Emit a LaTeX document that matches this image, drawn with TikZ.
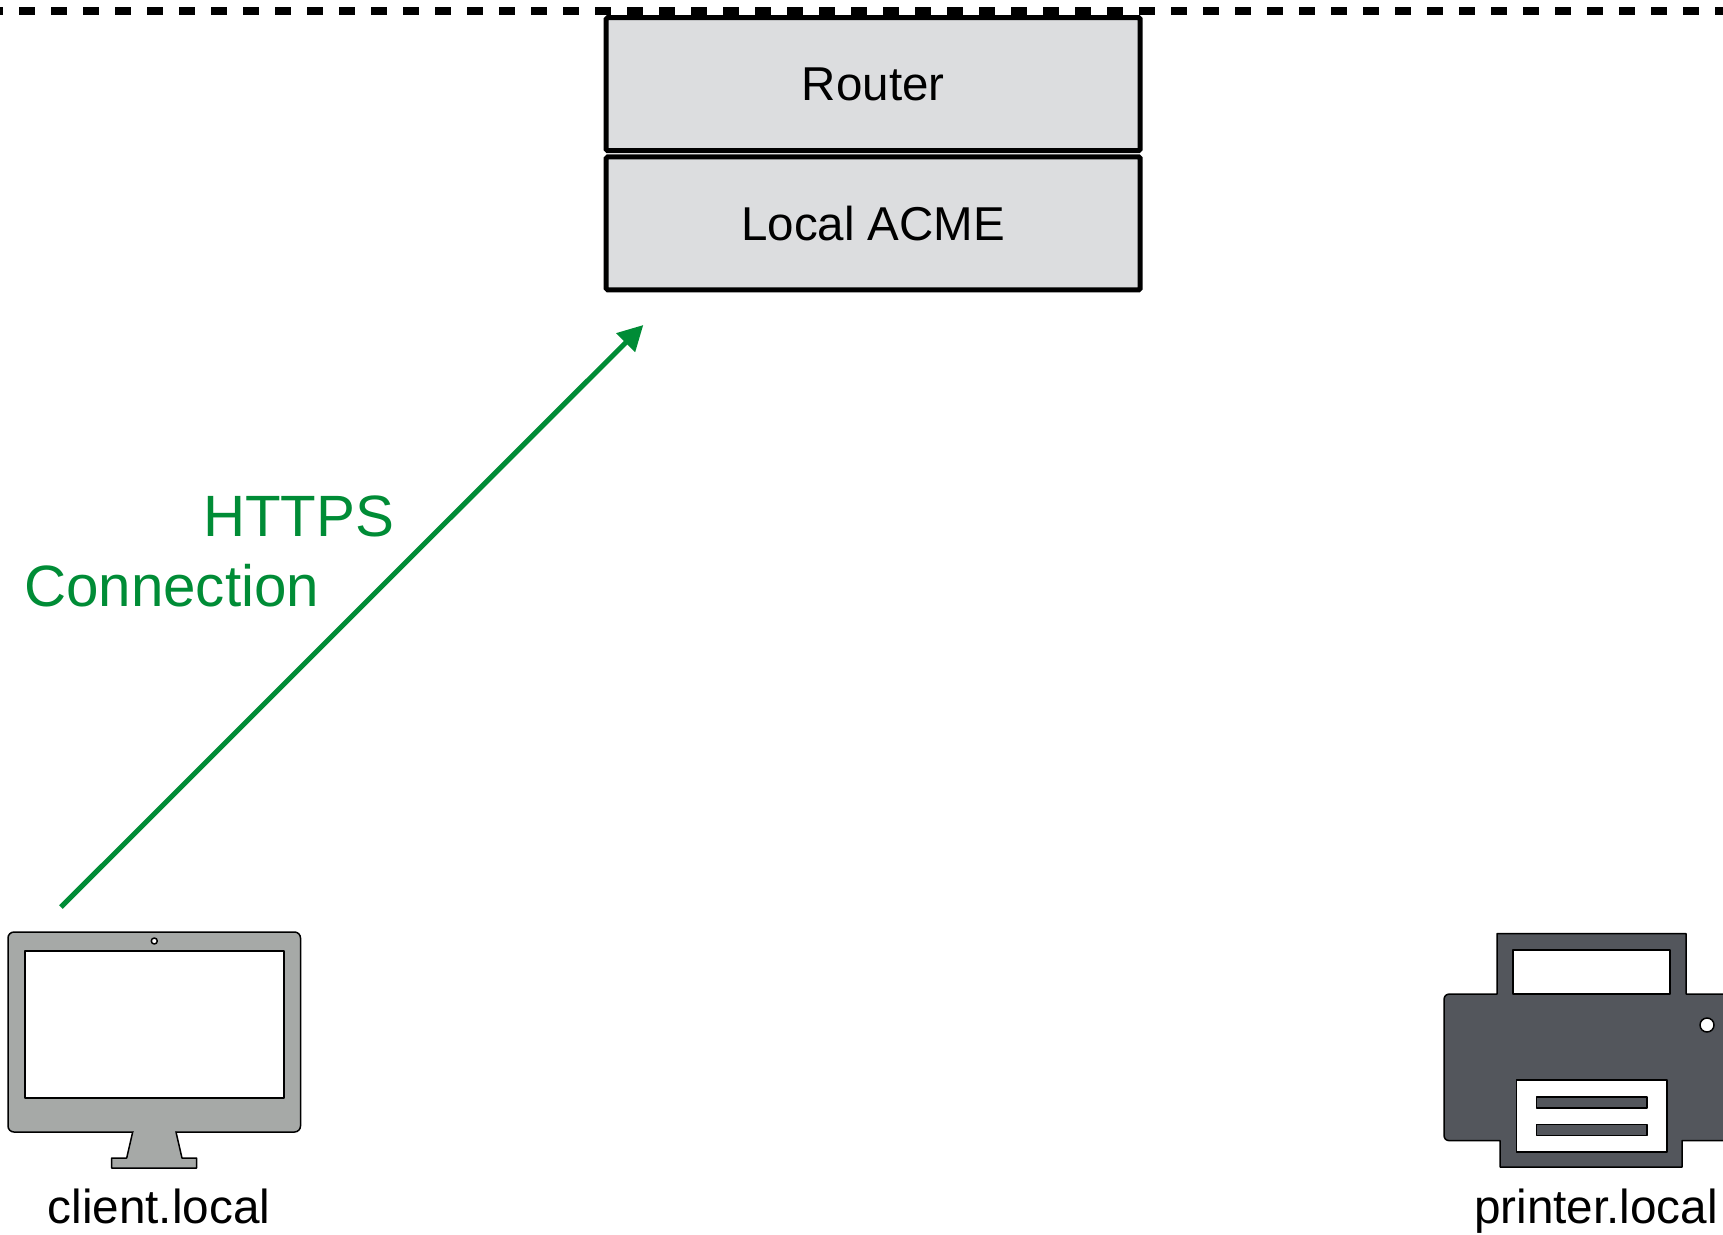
\documentclass[tikz,border=0pt]{standalone}
\usepackage{fontspec}
\setmainfont{Liberation Sans}
\usetikzlibrary{arrows.meta}
\definecolor{boxgrey}{HTML}{DCDDDF}
\definecolor{linkgreen}{HTML}{008C36}
\definecolor{monitorgrey}{HTML}{A6A9A7}
\definecolor{printergrey}{HTML}{53565C}
\tikzset{
  stackbox/.style={draw=black,fill=boxgrey,line width=5pt,rounded corners=1.5pt,minimum width=534pt,minimum height=133pt,inner sep=0pt,outer sep=0pt,font=\fontsize{47.5}{47.5}\selectfont},
  devicelabel/.style={anchor=base,inner sep=0pt,font=\fontsize{47.7}{47.7}\selectfont,text=black},
  greenlabel/.style={anchor=base west,inner sep=0pt,font=\fontsize{58.3}{58.3}\selectfont,text=linkgreen},
  linkarrow/.style={draw=linkgreen,line width=5pt,-{Triangle[length=25pt,width=25.5pt]}},
  iconline/.style={draw=black,line width=1.5pt,line join=round},
  boundary/.style={draw=black,line width=8pt,dash pattern=on 16pt off 16pt}
}
\begin{document}
\begin{tikzpicture}[x=1pt,y=-1pt]
\useasboundingbox (0,0) rectangle (1723,1234);
\clip (0,0) rectangle (1723,1234);
\fill[white] (0,0) rectangle (1723,1234);
% boundary
\coordinate (bl) at (-12.7,10.7);
\coordinate (br) at (1740,10.7);
\draw[boundary] (bl) -- (br);
% stack
\node[stackbox] (router) at (873.2,84.2) {Router};
\node[stackbox] (acme) at (873.2,223.4) {Local ACME};
% monitor
\draw[iconline,fill=monitorgrey,rounded corners=6pt] (8,932) rectangle (300.5,1132);
\draw[iconline,fill=monitorgrey] (132.7,1132) -- (126.7,1158) -- (111.7,1158) -- (111.7,1168) -- (196.7,1168) -- (196.7,1158) -- (182,1158) -- (176,1132);
\fill[monitorgrey] (133.5,1130) rectangle (175.2,1133);
\draw[iconline,fill=white,line width=1.7pt] (25,951) rectangle (284,1098);
\draw[iconline,fill=white] (154.3,941) circle (3pt);
\node[devicelabel] (client) at (159,1223) {client.local};
% printer
\draw[iconline,fill=printergrey,rounded corners=0pt]
  (1497,994) -- (1497,933.7) -- (1686,933.7) -- (1686,994)
  -- (1740,994) -- (1740,1140.7) -- (1682,1140.7) -- (1682,1167) -- (1500,1167) -- (1500,1140.7)
  -- (1450,1140.7) .. controls (1446,1140.7) and (1444,1138.7) .. (1444,1135)
  -- (1444,1000) .. controls (1444,996) and (1446,994) .. (1450,994) -- cycle;
\draw[iconline,fill=white] (1513,950) rectangle (1670,994);
\draw[iconline,fill=white] (1516.5,1080) rectangle (1667,1152);
\draw[iconline,fill=printergrey] (1536.5,1097) rectangle (1647,1108);
\draw[iconline,fill=printergrey] (1536.5,1124.7) rectangle (1647,1135.7);
\draw[iconline,fill=white] (1707,1025) circle (7pt);
\node[devicelabel] (printer) at (1596,1223) {printer.local};
% connector
\coordinate (linkstart) at (61,907);
\coordinate (linkend) at (643.3,325);
\draw[linkarrow] (linkstart) -- (linkend);
\node[greenlabel] (https) at (203,536) {HTTPS};
\node[greenlabel] (conn) at (24,606) {Connection};
\end{tikzpicture}
\end{document}
